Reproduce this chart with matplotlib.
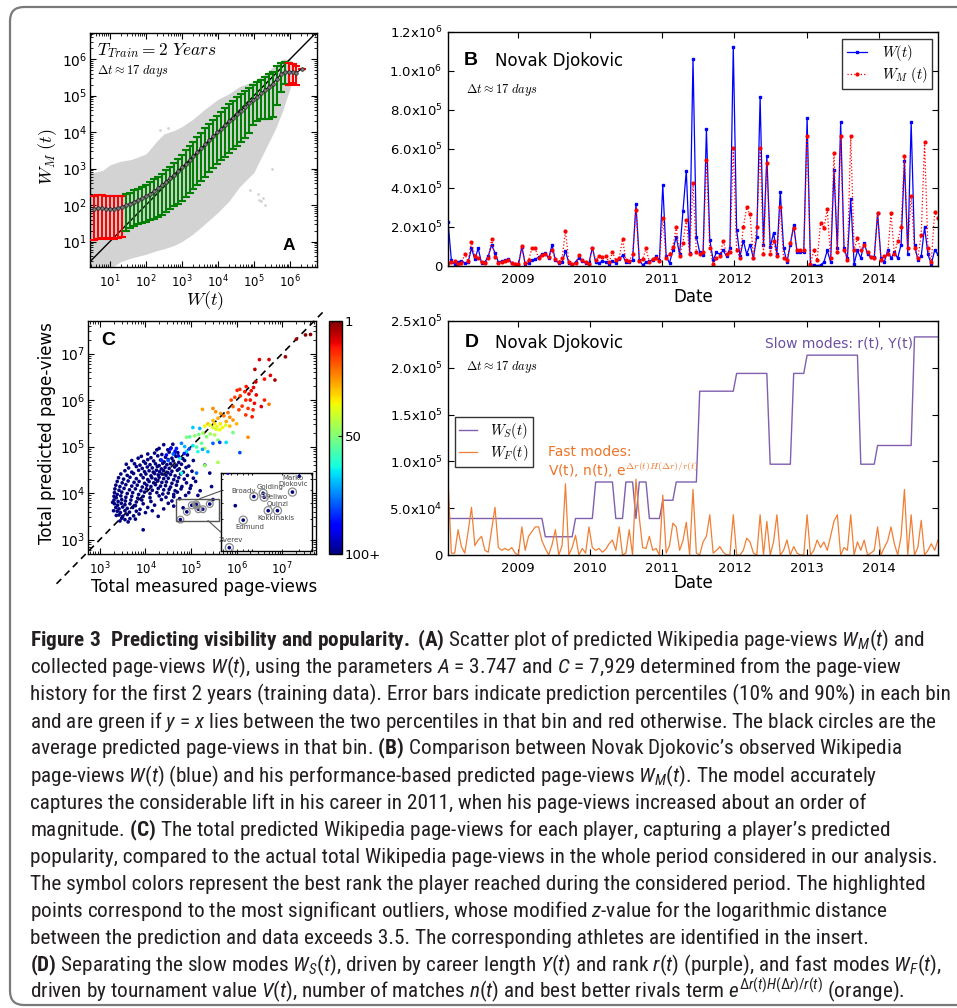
import datetime as dt
import numpy as np
import matplotlib
matplotlib.use('Agg')
import matplotlib.pyplot as plt
import matplotlib.dates as mdates
from matplotlib import font_manager as fm
from matplotlib.patches import FancyBboxPatch, Rectangle, ConnectionPatch
from matplotlib.transforms import IdentityTransform
from matplotlib.ticker import FixedLocator, FuncFormatter, NullFormatter
from matplotlib.colors import Normalize
from matplotlib.cm import ScalarMappable


# ---------------------------------------------------------------- data
# Panel A: gray cloud envelope (log10 of W(t), log10 of W_M(t))
a_cloud_xlog = [0.30, 0.44, 0.8, 1.0, 1.3, 1.6, 2.0, 2.3, 2.5, 2.8, 3.0, 3.3,
                3.6, 4.0, 4.3, 4.6, 5.0, 5.3, 5.6, 5.8, 6.0, 6.1]
a_cloud_lo = [0.2, 0.2, 0.2, 0.25, 0.45, 0.55, 0.65, 0.75, 0.8, 0.9, 1.0, 1.2,
              1.45, 1.8, 2.1, 2.5, 2.9, 3.5, 4.1, 4.6, 5.2, 5.85]
a_cloud_hi = [2.87, 2.87, 2.95, 3.1, 3.2, 3.25, 3.4, 3.75, 3.95, 4.05, 4.15, 4.35,
              4.6, 4.9, 5.05, 5.25, 5.4, 5.6, 5.85, 6.0, 6.0, 5.85]
a_stray_xlog = [5.15, 5.2, 5.25, 5.1, 5.3, 2.4, 2.6, 4.9, 5.5]
a_stray_ylog = [2.15, 2.1, 2.2, 2.3, 2.0, 4.05, 4.1, 2.4, 3.0]
a_decades = [1e1, 1e2, 1e3, 1e4, 1e5, 1e6]

# Panel A: bins (log10 x, log10 mean, log10 10th pct, log10 90th pct)
a_bin_x = [0.56, 0.67, 0.78, 0.89, 1.00, 1.11, 1.22, 1.33, 1.45, 1.56, 1.67, 1.78,
           1.89, 2.00, 2.11, 2.22, 2.33, 2.44, 2.55, 2.66, 2.77, 2.88, 2.99, 3.10,
           3.21, 3.32, 3.43, 3.54, 3.65, 3.76, 3.87, 3.98, 4.09, 4.20, 4.31, 4.42,
           4.53, 4.64, 4.75, 4.86, 4.97, 5.08, 5.19, 5.30, 5.41, 5.52, 5.63, 5.74,
           5.85, 5.96, 6.07, 6.17, 6.33]
a_bin_mean = [1.90, 1.92, 1.91, 1.90, 1.89, 1.90, 1.92, 1.95, 2.00, 2.04, 2.09, 2.14,
              2.19, 2.24, 2.31, 2.38, 2.46, 2.55, 2.64, 2.73, 2.83, 2.93, 3.03, 3.13,
              3.24, 3.35, 3.46, 3.56, 3.67, 3.78, 3.88, 3.99, 4.09, 4.19, 4.29, 4.39,
              4.49, 4.59, 4.69, 4.79, 4.88, 4.97, 5.06, 5.15, 5.24, 5.33, 5.45, 5.58,
              5.66, 5.64, 5.66, 5.62, 5.74]
a_bin_lo = [1.05, 1.07, 1.09, 1.08, 1.10, 1.08, 1.10, 1.12, 1.30, 1.36, 1.42, 1.47,
            1.50, 1.53, 1.58, 1.63, 1.68, 1.74, 1.80, 1.88, 1.96, 2.04, 2.12, 2.22,
            2.33, 2.44, 2.55, 2.66, 2.78, 2.90, 3.01, 3.12, 3.23, 3.33, 3.43, 3.53,
            3.63, 3.74, 3.85, 3.97, 4.20, 4.30, 4.35, 4.36, 4.36, 4.40, 4.75, 5.10,
            5.32, 5.30, 5.35, 5.28, 5.74]
a_bin_hi = [2.26, 2.27, 2.28, 2.25, 2.25, 2.24, 2.25, 2.26, 2.30, 2.34, 2.40, 2.45,
            2.50, 2.56, 2.63, 2.70, 2.78, 2.86, 2.95, 3.05, 3.15, 3.26, 3.38, 3.50,
            3.62, 3.74, 3.86, 3.98, 4.10, 4.22, 4.33, 4.44, 4.55, 4.66, 4.76, 4.86,
            4.96, 5.05, 5.13, 5.21, 5.29, 5.36, 5.43, 5.50, 5.58, 5.66, 5.80, 5.88,
            5.92, 5.88, 5.86, 5.80, 5.74]
# 1 = y=x lies between the two percentiles (green), 0 = it does not (red)
a_bin_covers = [0, 0, 0, 0, 0, 0, 0, 0, 1, 1, 1, 1,
                1, 1, 1, 1, 1, 1, 1, 1, 1, 1, 1, 1,
                1, 1, 1, 1, 1, 1, 1, 1, 1, 1, 1, 1,
                1, 1, 1, 1, 1, 1, 1, 1, 1, 1, 1, 1,
                1, 0, 0, 0, 0]

# Panels B and D: one sample every ~17 days (thousands of page-views)
b_start = dt.date(2008, 1, 11)
b_step_days = 17
b_observed_k = [
    228, 30, 8, 20, 28, 15, 20, 91, 35, 91,
    15, 20, 50, 108, 68, 20, 25, 30, 35, 15,
    12, 5, 100, 10, 15, 30, 35, 45, 60, 65,
    40, 108, 30, 15, 20, 77, 15, 5, 20, 40,
    25, 15, 15, 94, 20, 15, 25, 20, 10, 25,
    15, 35, 55, 20, 20, 30, 317, 30, 5, 20,
    25, 30, 50, 30, 415, 50, 15, 80, 150, 60,
    280, 489, 69, 1063, 150, 70, 55, 700, 135, 30,
    70, 60, 80, 50, 90, 1125, 185, 50, 130, 60,
    110, 40, 150, 865, 110, 565, 95, 170, 60, 380,
    90, 20, 110, 210, 70, 70, 70, 760, 5, 5,
    2, 5, 20, 80, 20, 490, 90, 738, 90, 40,
    345, 10, 80, 40, 120, 60, 45, 45, 270, 40,
    20, 80, 40, 70, 40, 110, 537, 60, 738, 110,
    30, 50, 200, 60, 10, 80, 60]
b_model_k = [
    15, 20, 25, 10, 15, 60, 25, 122, 50, 40,
    20, 15, 40, 137, 45, 15, 20, 25, 30, 15,
    10, 8, 103, 15, 30, 90, 90, 40, 55, 60,
    45, 80, 35, 20, 40, 180, 20, 10, 15, 55,
    30, 20, 10, 90, 30, 50, 45, 50, 20, 70,
    30, 40, 137, 30, 25, 60, 288, 25, 35, 90,
    20, 35, 40, 25, 245, 40, 60, 100, 200, 50,
    120, 235, 60, 425, 70, 60, 70, 545, 90, 10,
    40, 50, 130, 60, 70, 605, 80, 40, 200, 300,
    265, 40, 200, 605, 60, 530, 60, 130, 50, 300,
    40, 30, 120, 195, 80, 80, 80, 665, 10, 80,
    30, 220, 195, 290, 40, 580, 70, 665, 80, 30,
    665, 80, 145, 80, 110, 70, 45, 40, 270, 30,
    50, 60, 270, 60, 130, 200, 565, 90, 360, 90,
    40, 160, 635, 90, 20, 275, 245]
d_slow_k = [
    39, 39, 39, 39, 39, 39, 39, 39, 39, 39,
    39, 39, 39, 39, 39, 39, 39, 39, 39, 39,
    39, 39, 39, 39, 39, 39, 39, 39, 39, 19.5,
    19.5, 19.5, 19.5, 19.5, 19.5, 19.5, 19.5, 19.5, 39, 39,
    39, 39, 39, 39, 78, 78, 78, 78, 78, 78,
    39, 39, 39, 78, 78, 78, 39, 78, 78, 78,
    39, 39, 39, 39, 58.5, 58.5, 58.5, 58.5, 78, 78,
    78, 78, 78, 78, 78, 175, 175, 175, 175, 175,
    175, 175, 175, 175, 175, 175, 194, 194, 194, 194,
    194, 194, 194, 194, 194, 194, 97, 97, 97, 97,
    97, 97, 97, 194, 194, 194, 194, 213.5, 213.5, 213.5,
    213.5, 213.5, 213.5, 213.5, 213.5, 213.5, 213.5, 213.5, 213.5, 213.5,
    213.5, 213.5, 213.5, 97, 97, 97, 97, 97, 117, 117,
    117, 117, 117, 117, 117, 117, 117, 117, 117, 233,
    233, 233, 233, 233, 233, 233, 233]
d_fast_k = [
    80, 2, 2, 27, 9, 2, 25, 51, 10, 16,
    20, 5, 3, 27, 51, 8, 5, 7, 5, 8,
    2, 0, 30, 5, 20, 25, 30, 30, 15, 7,
    0, 11, 27, 0, 10, 76, 0, 8, 21, 0,
    7, 2, 30, 8, 5, 7, 3, 6, 12, 16,
    5, 30, 0, 2, 27, 0, 81, 40, 8, 7,
    20, 5, 7, 0, 64, 2, 10, 34, 30, 5,
    15, 35, 0, 70, 2, 0, 14, 20, 43, 2,
    5, 9, 3, 0, 0, 43, 0, 0, 5, 18,
    14, 2, 0, 43, 0, 36, 0, 14, 43, 0,
    5, 16, 0, 9, 2, 0, 0, 43, 0, 5,
    16, 8, 14, 5, 20, 36, 43, 0, 8, 5,
    43, 0, 14, 5, 16, 0, 2, 5, 30, 0,
    8, 15, 30, 12, 0, 20, 70, 0, 43, 0,
    8, 37, 0, 5, 12, 5, 16]
b_yticks = [0, 2e5, 4e5, 6e5, 8e5, 1e6, 1.2e6]
d_yticks = [0, 5e4, 1e5, 1.5e5, 2e5, 2.5e5]

# Panel C: log10(total measured), log10(total predicted); best rank 100+ cloud
c_rank_floor = 100
c_decades = [1e3, 1e4, 1e5, 1e6, 1e7]
c_blue_cloud = [
    (4.40, 5.04), (4.30, 4.96), (4.49, 4.93), (4.56, 4.97),
    (4.20, 4.86), (4.36, 4.83), (4.52, 4.88), (4.63, 4.84), (4.71, 4.87),
    (3.91, 4.79), (4.12, 4.76), (4.27, 4.80), (4.44, 4.77), (4.58, 4.75), (4.67, 4.79), (4.82, 4.74),
    (3.96, 4.68), (4.05, 4.72), (4.18, 4.69), (4.33, 4.71), (4.41, 4.67), (4.50, 4.72), (4.61, 4.69),
    (4.73, 4.66), (4.86, 4.70),
    (3.76, 4.63), (3.88, 4.60), (4.00, 4.64), (4.10, 4.61), (4.22, 4.63), (4.30, 4.59), (4.38, 4.64),
    (4.47, 4.61), (4.55, 4.63), (4.68, 4.60), (4.79, 4.62), (4.95, 4.58),
    (3.63, 4.54), (3.80, 4.57), (3.93, 4.53), (4.04, 4.56), (4.15, 4.54), (4.26, 4.57), (4.35, 4.52),
    (4.43, 4.55), (4.52, 4.53), (4.64, 4.56), (4.74, 4.52), (4.89, 4.55),
    (3.55, 4.48), (3.70, 4.45), (3.85, 4.49), (3.98, 4.46), (4.08, 4.48), (4.17, 4.45), (4.24, 4.49),
    (4.31, 4.46), (4.40, 4.48), (4.49, 4.44), (4.58, 4.47), (4.70, 4.49), (4.83, 4.45), (5.02, 4.47),
    (3.46, 4.41), (3.60, 4.38), (3.74, 4.42), (3.90, 4.39), (4.01, 4.41), (4.12, 4.37), (4.20, 4.42),
    (4.28, 4.39), (4.36, 4.41), (4.45, 4.38), (4.55, 4.40), (4.65, 4.37), (4.77, 4.41), (4.92, 4.38),
    (3.41, 4.33), (3.52, 4.30), (3.66, 4.34), (3.80, 4.31), (3.95, 4.33), (4.05, 4.29), (4.14, 4.33),
    (4.22, 4.30), (4.30, 4.34), (4.40, 4.31), (4.50, 4.32), (4.62, 4.29), (4.73, 4.33), (4.85, 4.30),
    (5.05, 4.32),
    (3.38, 4.25), (3.49, 4.22), (3.62, 4.26), (3.75, 4.23), (3.86, 4.25), (3.98, 4.21), (4.08, 4.25),
    (4.18, 4.22), (4.27, 4.26), (4.36, 4.23), (4.46, 4.24), (4.58, 4.21), (4.70, 4.25), (4.90, 4.22),
    (3.35, 4.17), (3.44, 4.14), (3.57, 4.18), (3.70, 4.15), (3.82, 4.17), (3.93, 4.13), (4.03, 4.17),
    (4.12, 4.14), (4.22, 4.18), (4.33, 4.15), (4.44, 4.16), (4.55, 4.13), (4.68, 4.17), (4.80, 4.14),
    (5.00, 4.16),
    (3.33, 4.09), (3.42, 4.06), (3.53, 4.10), (3.65, 4.07), (3.78, 4.09), (3.90, 4.05), (4.02, 4.09),
    (4.15, 4.06), (4.28, 4.10), (4.40, 4.07), (4.52, 4.08), (4.65, 4.05), (4.78, 4.09),
    (3.32, 4.01), (3.38, 3.97), (3.48, 4.02), (3.60, 3.99), (3.72, 4.01), (3.85, 3.97), (3.98, 4.02),
    (4.10, 3.99), (4.25, 4.01), (4.38, 3.98), (4.50, 4.00), (4.62, 3.97), (4.95, 4.01),
    (3.31, 3.93), (3.36, 3.90), (3.46, 3.94), (3.57, 3.91), (3.70, 3.93), (3.83, 3.89), (3.95, 3.93),
    (4.10, 3.90), (4.30, 3.94), (4.45, 3.91), (4.62, 3.92),
    (3.31, 3.85), (3.40, 3.82), (3.48, 3.86), (3.56, 3.83), (3.68, 3.85), (3.80, 3.81), (3.92, 3.85),
    (4.12, 3.82), (4.35, 3.86), (4.58, 3.83),
    (3.32, 3.77), (3.39, 3.74), (3.47, 3.78), (3.55, 3.75), (3.66, 3.77), (3.78, 3.73), (3.95, 3.77),
    (4.20, 3.74), (4.50, 3.78),
    (3.35, 3.69), (3.42, 3.66), (3.50, 3.70), (3.60, 3.67), (3.72, 3.69), (3.88, 3.65), (4.05, 3.69),
    (4.40, 3.66),
    (3.38, 3.61), (3.45, 3.58), (3.55, 3.62), (3.65, 3.59), (3.80, 3.61), (4.00, 3.58),
    (3.42, 3.53), (3.50, 3.50), (3.60, 3.54), (3.74, 3.51),
    (3.48, 3.46), (3.55, 3.43), (3.66, 3.45), (3.95, 3.21),
    (5.41, 4.43), (5.45, 4.14), (5.69, 3.57), (5.48, 3.86), (5.20, 4.05), (5.10, 4.25),
    (5.30, 4.60), (5.15, 3.95), (4.826, 3.683),
    (3.28, 3.80), (3.30, 3.62), (3.36, 3.52), (3.44, 3.40), (3.62, 3.38), (3.78, 3.44),
    (3.86, 3.55), (4.15, 3.62), (4.28, 3.50), (4.62, 3.72), (4.75, 3.88), (4.88, 3.95),
    (4.70, 4.02), (4.98, 4.10), (3.58, 4.62), (3.70, 4.70), (3.84, 4.75), (4.05, 4.84),
    (4.25, 4.93), (4.60, 5.05), (5.05, 4.70), (4.92, 4.82)]
c_ranked = [
    (7.62, 7.41, 1), (7.51, 7.40, 2), (7.31, 7.31, 3), (7.07, 6.93, 4), (6.71, 6.87, 8),
    (6.50, 6.87, 9), (6.40, 6.66, 6), (6.74, 6.53, 10), (6.84, 6.43, 5), (6.61, 6.45, 12),
    (6.42, 6.39, 7), (6.37, 6.27, 10), (6.21, 6.29, 12), (6.07, 6.23, 15), (6.01, 6.21, 14),
    (6.18, 6.18, 13), (6.27, 6.13, 9), (6.32, 6.20, 11), (6.43, 6.11, 10), (6.08, 6.09, 16),
    (5.96, 6.06, 17), (5.88, 6.00, 18), (6.30, 6.00, 12), (6.20, 6.00, 14), (6.39, 5.93, 11),
    (6.54, 5.86, 9), (6.61, 6.00, 13), (6.12, 5.87, 15), (6.25, 5.82, 16), (6.36, 5.79, 14),
    (6.05, 5.79, 17), (5.92, 5.86, 20), (6.20, 5.68, 15), (6.34, 5.64, 12), (6.71, 5.91, 22),
    (6.25, 5.20, 25), (6.07, 4.87, 80),
    (5.25, 5.80, 27), (5.48, 5.82, 24), (5.54, 5.75, 25), (5.65, 5.71, 26), (5.72, 5.66, 23),
    (5.81, 5.73, 22), (5.85, 5.63, 24), (5.92, 5.57, 26), (5.77, 5.54, 28), (5.59, 5.61, 28),
    (5.48, 5.56, 30), (5.37, 5.49, 31), (6.00, 5.49, 29), (5.85, 5.44, 30),
    (5.30, 5.44, 36), (5.41, 5.46, 38), (5.52, 5.49, 35), (5.57, 5.43, 37), (5.64, 5.49, 34),
    (5.69, 5.41, 36), (5.76, 5.46, 38), (5.55, 5.37, 39), (5.48, 5.41, 40), (5.63, 5.36, 37),
    (5.04, 5.41, 68), (5.19, 5.39, 70),
    (4.90, 5.20, 50), (4.97, 5.21, 55), (5.08, 5.23, 48), (5.17, 5.26, 52), (5.26, 5.29, 46),
    (5.34, 5.21, 50), (5.42, 5.27, 47), (5.52, 5.25, 44), (5.59, 5.14, 49), (5.23, 5.07, 53),
    (5.30, 4.96, 45), (5.12, 4.99, 55), (5.30, 4.59, 48), (5.59, 4.66, 45), (5.92, 5.30, 52),
    (4.79, 5.07, 75), (4.86, 5.00, 70), (4.96, 4.95, 80), (5.04, 5.02, 65), (5.15, 4.89, 62),
    (5.25, 4.94, 72), (5.37, 4.89, 68), (5.48, 5.07, 78), (5.63, 5.09, 82), (5.77, 5.09, 66),
    (4.90, 4.89, 67), (4.75, 4.75, 62), (4.68, 4.96, 85), (4.61, 4.84, 78), (4.46, 4.82, 88),
    (4.35, 4.71, 84), (4.50, 4.70, 80), (4.79, 4.43, 62), (5.12, 4.43, 78),
    (4.55, 4.95, 90), (4.65, 4.90, 88), (4.72, 4.80, 92), (4.85, 4.85, 86)]
c_outliers = [('Zverev', 4.765, 3.43), ('Edmund', 4.907, 3.596), ('Broady', 5.016, 3.738),
              ('Golding', 5.111, 3.758), ('Pellwo', 5.121, 3.734), ('Quinzi', 5.162, 3.653),
              ('Kokkinakis', 5.257, 3.653), ('Marko\nDjokovic', 5.41, 3.765)]
c_zoom_box = (4.68, 5.61, 3.41, 3.88)   # log10 x0, x1, y0, y1 of the insert
c_cbar_ticks = [1, 50, 100]
c_cbar_labels = ['1', '50', '100+']

cap_lines = [
    r"$\mathbf{Figure\ 3\ \ Predicting\ visibility\ and\ popularity.}$ $\mathbf{(A)}$ Scatter plot of predicted Wikipedia page-views $W_M(t)$ and",
    r"collected page-views $W(t)$, using the parameters $A$ = 3.747 and $C$ = 7,929 determined from the page-view",
    "history for the first 2 years (training data). Error bars indicate prediction percentiles (10% and 90%) in each bin",
    r"and are green if $y$ = $x$ lies between the two percentiles in that bin and red otherwise. The black circles are the",
    r"average predicted page-views in that bin. $\mathbf{(B)}$ Comparison between Novak Djokovic’s observed Wikipedia",
    r"page-views $W(t)$ (blue) and his performance-based predicted page-views $W_M(t)$. The model accurately",
    "captures the considerable lift in his career in 2011, when his page-views increased about an order of",
    r"magnitude. $\mathbf{(C)}$ The total predicted Wikipedia page-views for each player, capturing a player’s predicted",
    "popularity, compared to the actual total Wikipedia page-views in the whole period considered in our analysis.",
    "The symbol colors represent the best rank the player reached during the considered period. The highlighted",
    r"points correspond to the most significant outliers, whose modified $z$-value for the logarithmic distance",
    "between the prediction and data exceeds 3.5. The corresponding athletes are identified in the insert.",
    r"$\mathbf{(D)}$ Separating the slow modes $W_S(t)$, driven by career length $Y(t)$ and rank $r(t)$ (purple), and fast modes $W_F(t)$,",
    r"driven by tournament value $V(t)$, number of matches $n(t)$ and best better rivals term $e^{\Delta r(t)H(\Delta r)/r(t)}$ (orange).",
]


# ---------------------------------------------------------------- fonts
def pick_caption_font():
    fonts = fm.fontManager.ttflist
    names = {f.name for f in fonts}
    for name in ['Liberation Sans Narrow', 'Roboto Condensed', 'Open Sans Condensed',
                 'Noto Sans Condensed', 'DejaVu Sans Condensed']:
        if name in names:
            return name, 'normal'
    for name in ['Noto Sans', 'Open Sans', 'Roboto', 'DejaVu Sans']:
        if any(f.name == name and str(f.stretch) == 'condensed' for f in fonts):
            return name, 'condensed'
    return 'Liberation Sans', 'normal'


cap_family, cap_stretch = pick_caption_font()
suffix = ':condensed' if cap_stretch == 'condensed' else ''

plt.rcParams.update({
    'font.family': 'DejaVu Sans',
    'axes.linewidth': 1.0,
    'xtick.direction': 'in', 'ytick.direction': 'in',
    'xtick.top': True, 'ytick.right': True,
    'xtick.major.size': 4, 'ytick.major.size': 4,
    'xtick.minor.size': 2, 'ytick.minor.size': 2,
    'xtick.major.pad': 5, 'ytick.major.pad': 2,
    'mathtext.fontset': 'custom',
    'mathtext.rm': cap_family + suffix,
    'mathtext.it': cap_family + ':italic' + suffix,
    'mathtext.bf': cap_family + ':bold' + suffix,
})

W, H = 957, 1008


def px_rect(x0, y0, x1, y1):
    return [x0 / W, 1 - y1 / H, (x1 - x0) / W, (y1 - y0) / H]


def sci_label(v, pos):
    if v == 0:
        return '0'
    e = int(np.floor(np.log10(v) + 1e-9))
    return r'$\mathdefault{%.1fx10^{%d}}$' % (v / 10 ** e, e)


fig = plt.figure(figsize=(W / 100, H / 100), dpi=100)

# rounded frame around the whole figure
frame = FancyBboxPatch((10, 3), 985, 998, boxstyle='round,pad=0,rounding_size=14',
                       transform=IdentityTransform(), fill=False, ec='#7a7a7a', lw=1.6)
fig.add_artist(frame)

# ---------------------------------------------------------------- panel A
axA = fig.add_axes(px_rect(90, 33, 317, 267))
axA.set_xscale('log')
axA.set_yscale('log')
axA.fill_between(10 ** np.array(a_cloud_xlog), 10 ** np.array(a_cloud_lo),
                 10 ** np.array(a_cloud_hi), color='#d3d3d3', lw=0, zorder=1)
axA.scatter(10 ** np.array(a_stray_xlog), 10 ** np.array(a_stray_ylog), s=4,
            color='#d3d3d3', lw=0, zorder=1)
axA.plot([1, 1e7], [1, 1e7], color='k', lw=1, zorder=2)
for x, m, lo, hi, ok in zip(a_bin_x, a_bin_mean, a_bin_lo, a_bin_hi, a_bin_covers):
    col = '#008000' if ok else '#ff0000'
    axA.errorbar([10 ** x], [10 ** m], yerr=[[10 ** m - 10 ** lo], [10 ** hi - 10 ** m]],
                 fmt='none', ecolor=col, elinewidth=1.5, capsize=3, capthick=1.5, zorder=3)
axA.plot(10 ** np.array(a_bin_x), 10 ** np.array(a_bin_mean), '-', color='k', lw=0.8,
         marker='o', ms=2.6, mfc='#7a7a7a', mec='#222222', mew=0.5, zorder=4)
axA.set_xlim(2.8, 5.6e6)
axA.set_ylim(2.0, 5.2e6)
axA.xaxis.set_major_locator(FixedLocator(a_decades))
axA.yaxis.set_major_locator(FixedLocator(a_decades))
axA.tick_params(axis='x', labelsize=8.5)
axA.tick_params(axis='y', labelsize=10)
axA.set_xlabel(r'$W(t)$', fontsize=13, math_fontfamily='cm', va='center')
axA.xaxis.set_label_coords(0.507, -0.142)
axA.set_ylabel(r'$W_M\ (t)$', fontsize=13, math_fontfamily='cm', va='center')
axA.yaxis.set_label_coords(-0.185, 0.47)
axA.text(0.03, 0.927, r'$T_{Train}=2\ Years$', transform=axA.transAxes, fontsize=12.5,
         math_fontfamily='cm', va='center')
axA.text(0.03, 0.838, r'$\Delta t\approx17\ days$', transform=axA.transAxes, fontsize=9,
         math_fontfamily='cm', va='center')
axA.text(0.903, 0.094, 'A', transform=axA.transAxes, fontsize=12.5, fontweight='bold',
         family='Liberation Sans', ha='right', va='center')

# ---------------------------------------------------------------- panel B
dates = [b_start + dt.timedelta(days=b_step_days * k) for k in range(len(b_observed_k))]
axB = fig.add_axes(px_rect(448, 32, 938, 266))
axB.plot(dates, np.array(b_observed_k) * 1000.0, color='#0000ff', lw=0.9, marker='s',
         ms=2, mec='#0000ff', label=r'$W(t)$')
axB.plot(dates, np.array(b_model_k) * 1000.0, color='#ff0000', lw=0.9, ls=':', marker='o',
         ms=2, mec='#ff0000', label=r'$W_M\ (t)$')
axB.set_xlim(dates[0], dates[-1])
axB.set_ylim(0, 1.2e6)
axB.yaxis.set_major_locator(FixedLocator(b_yticks))
axB.yaxis.set_major_formatter(FuncFormatter(sci_label))
axB.xaxis.set_major_locator(mdates.YearLocator())
axB.xaxis.set_major_formatter(mdates.DateFormatter('%Y'))
axB.tick_params(labelsize=9.5)
axB.tick_params(axis='y', pad=4)
axB.set_xlabel('Date', fontsize=12, va='center')
axB.xaxis.set_label_coords(0.5, -0.132)
legB = axB.legend(loc='upper right', bbox_to_anchor=(0.988, 0.97), borderaxespad=0,
                  fontsize=10.5, fancybox=False, edgecolor='#333333', framealpha=1,
                  handlelength=1.4, handletextpad=1.0, labelspacing=0.1, borderpad=0.3)
legB.get_frame().set_linewidth(1.0)
for t in legB.get_texts():
    t.set_math_fontfamily('cm')
axB.text(0.033, 0.88, 'B', transform=axB.transAxes, fontsize=14, fontweight='bold',
         family='Liberation Sans', va='center')
axB.text(0.096, 0.876, 'Novak Djokovic', transform=axB.transAxes, fontsize=12, va='center')
axB.text(0.037, 0.752, r'$\Delta t\approx17\ days$', transform=axB.transAxes, fontsize=9,
         math_fontfamily='cm', va='center')

# ---------------------------------------------------------------- panel C
cmap = plt.get_cmap('jet_r')
norm = Normalize(1, 100)
axC = fig.add_axes(px_rect(88, 321, 316, 554))
axIn = fig.add_axes(px_rect(221, 473, 312, 551))
blue = np.array(c_blue_cloud)
ranked = np.array(c_ranked)
out_x = np.array([o[1] for o in c_outliers])
out_y = np.array([o[2] for o in c_outliers])
for ax, ring in ((axC, 24), (axIn, 34)):
    ax.set_xscale('log')
    ax.set_yscale('log')
    ax.scatter(10 ** blue[:, 0], 10 ** blue[:, 1], c=np.full(len(blue), c_rank_floor),
               cmap=cmap, norm=norm, s=7, lw=0, zorder=3)
    ax.scatter(10 ** ranked[:, 0], 10 ** ranked[:, 1], c=ranked[:, 2], cmap=cmap, norm=norm,
               s=7, lw=0, zorder=3)
    ax.scatter(10 ** out_x, 10 ** out_y, c=np.full(len(out_x), c_rank_floor), cmap=cmap,
               norm=norm, s=7, lw=0, zorder=4)
    ax.scatter(10 ** out_x, 10 ** out_y, s=ring, facecolors='none', edgecolors='#8c8c8c',
               lw=0.9, zorder=5)
axC.plot([10 ** 2.05, 10 ** 7.93], [10 ** 2.05, 10 ** 7.93], color='k', lw=1.2,
         ls=(0, (4, 3)), clip_on=False, zorder=2)
axC.set_xlim(10 ** 2.74, 10 ** 7.74)
axC.set_ylim(10 ** 2.69, 10 ** 7.70)
axC.xaxis.set_major_locator(FixedLocator(c_decades))
axC.yaxis.set_major_locator(FixedLocator(c_decades))
axC.tick_params(axis='x', labelsize=8.5)
axC.tick_params(axis='y', labelsize=10)
axC.set_xlabel('Total measured page-views', fontsize=12, va='center')
axC.xaxis.set_label_coords(0.51, -0.142)
axC.set_ylabel('Total predicted page-views', fontsize=12, va='center')
axC.yaxis.set_label_coords(-0.18, 0.52)
axC.text(0.06, 0.918, 'C', transform=axC.transAxes, fontsize=14, fontweight='bold',
         family='Liberation Sans', va='center')
bx0, bx1, by0, by1 = c_zoom_box
axC.add_patch(Rectangle((10 ** bx0, 10 ** by0), 10 ** bx1 - 10 ** bx0, 10 ** by1 - 10 ** by0,
                        fill=False, ec='#555555', lw=1.0, zorder=6))
axIn.set_xlim(10 ** bx0, 10 ** bx1)
axIn.set_ylim(10 ** by0, 10 ** by1)
for axis in (axIn.xaxis, axIn.yaxis):
    axis.set_major_formatter(NullFormatter())
    axis.set_minor_formatter(NullFormatter())
axIn.tick_params(which='both', length=1.5)
label_offsets = [(1, 8), (7, -7), (-10, 6), (7, 6), (12, 0), (9, 7), (-2, -7), (1, 11)]
for (name, lx, ly), (ox, oy) in zip(c_outliers, label_offsets):
    axIn.annotate(name, (10 ** lx, 10 ** ly), xytext=(ox, oy), textcoords='offset pixels',
                  fontsize=5, color='#444444', ha='center', va='center', linespacing=1.0)
for xa, ya_box, yb in ((5.19, by1, 0.77), (5.37, by0, 0.24)):
    con = ConnectionPatch(xyA=(10 ** xa, 10 ** ya_box), coordsA=axC.transData,
                          xyB=(0, yb), coordsB=axIn.transAxes, color='#555555', lw=0.8)
    fig.add_artist(con)

cax = fig.add_axes(px_rect(329, 321, 342, 554))
cb = fig.colorbar(ScalarMappable(norm=norm, cmap=cmap), cax=cax)
cb.set_ticks(c_cbar_ticks)
cb.set_ticklabels(c_cbar_labels)
cax.invert_yaxis()
cax.tick_params(labelsize=9.5, length=3, direction='in', pad=2)
cb.outline.set_linewidth(1.0)

# ---------------------------------------------------------------- panel D
axD = fig.add_axes(px_rect(448, 321, 938, 555))
axD.plot(dates, np.array(d_slow_k) * 1000.0, color='#7f5fae', lw=1.0, label=r'$W_S(t)$')
axD.plot(dates, np.array(d_fast_k) * 1000.0, color='#f07f35', lw=0.9, label=r'$W_F(t)$')
axD.set_xlim(dates[0], dates[-1])
axD.set_ylim(0, 2.5e5)
axD.yaxis.set_major_locator(FixedLocator(d_yticks))
axD.yaxis.set_major_formatter(FuncFormatter(sci_label))
axD.xaxis.set_major_locator(mdates.YearLocator())
axD.xaxis.set_major_formatter(mdates.DateFormatter('%Y'))
axD.tick_params(labelsize=9.5)
axD.tick_params(axis='y', pad=4)
axD.set_xlabel('Date', fontsize=12, va='center')
axD.xaxis.set_label_coords(0.5, -0.12)
legD = axD.legend(loc='upper left', bbox_to_anchor=(0.014, 0.59), borderaxespad=0,
                  fontsize=10.5, fancybox=False, edgecolor='#333333', framealpha=1,
                  handlelength=1.2, handletextpad=0.9, labelspacing=0.1, borderpad=0.3)
legD.get_frame().set_linewidth(1.0)
for t in legD.get_texts():
    t.set_math_fontfamily('cm')
axD.text(0.034, 0.906, 'D', transform=axD.transAxes, fontsize=14, fontweight='bold',
         family='Liberation Sans', va='center')
axD.text(0.096, 0.906, 'Novak Djokovic', transform=axD.transAxes, fontsize=12, va='center')
axD.text(0.037, 0.803, r'$\Delta t\approx17\ days$', transform=axD.transAxes, fontsize=9,
         math_fontfamily='cm', va='center')
axD.text(0.949, 0.90, 'Slow modes: r(t), Y(t)', transform=axD.transAxes, fontsize=10,
         color='#6b4fa0', ha='right', va='center')
axD.text(0.204, 0.441, 'Fast modes:', transform=axD.transAxes, fontsize=10,
         color='#ee7427', va='center')
axD.text(0.204, 0.363, r'V(t), n(t), $\mathdefault{e}^{\Delta r(t)H(\Delta r)/r(t)}$',
         transform=axD.transAxes, fontsize=10, color='#ee7427', va='center',
         math_fontfamily='cm')

# ---------------------------------------------------------------- caption
cap_size = 14.0
cap_texts = []
for i, s in enumerate(cap_lines):
    t = fig.text(30 / W, 1 - (646.5 + 27.08 * i) / H, s, fontsize=cap_size,
                 family=cap_family, stretch=cap_stretch, color='#231f20',
                 ha='left', va='baseline')
    cap_texts.append(t)
renderer = fig.canvas.get_renderer()
widest = max(t.get_window_extent(renderer).width for t in cap_texts)
scale = min(923.0 / widest, 1.15)
for t in cap_texts:
    t.set_fontsize(cap_size * scale)

fig.savefig('out.png', dpi=100)
